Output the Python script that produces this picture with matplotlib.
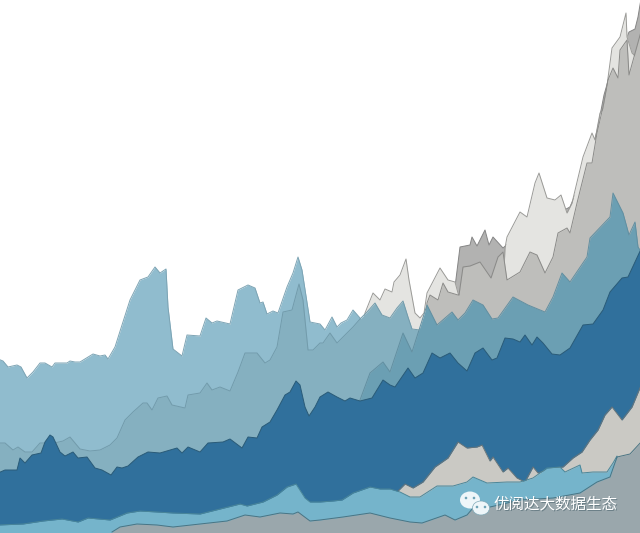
import matplotlib
matplotlib.use("Agg")
import matplotlib.pyplot as plt
from matplotlib.patches import Ellipse

plt.rcParams['font.family'] = ['Noto Sans CJK SC', 'DejaVu Sans']

pale_blue_x = [-2,3,8,17,21,27,33,40,45,52,55,67,70,75,80,93,100,105,108,115,122,130,140,148,155,160,166,168,173,182,187,200,206,212,217,230,238,248,255,260,263,267,273,278,287,293,298,302,310,315,320,325,332,337,341,347,353,360,362]
pale_blue_v = [174,172,166,168,166,155,161,170,170,166,170,170,172,171,171,179,177,178,174,186,208,233,253,256,266,260,264,226,184,177,198,197,215,210,212,209,243,248,245,230,231,219,222,220,246,260,276,263,211,210,209,203,216,206,210,213,223,215,200]

dark_gray_x = [452,455,460,470,472,477,485,489,493,503,520,570,587,597,604,612,620,627,629,635,638,642]
dark_gray_v = [236,246,286,288,296,287,303,288,296,285,300,326,366,402,438,466,490,496,501,504,516,540]

off_white_x = [363,365,373,380,385,392,394,400,406,409,415,420,424,427,440,448,455,458,462,503,505,507,520,527,535,539,547,555,561,567,572,583,592,595,600,604,612,620,626,627,632,642]
off_white_v = [200,220,240,233,244,241,251,258,274,253,220,215,220,240,265,253,251,240,230,240,285,296,321,316,350,360,335,333,338,320,330,376,400,393,420,425,485,496,520,496,480,470]

warm_gray_x = [425,427,430,438,443,448,458,459,463,470,480,491,498,503,507,520,530,537,545,553,558,567,570,577,587,592,597,603,608,613,618,620,627,629,642]
warm_gray_v = [200,230,238,233,250,241,238,238,266,267,271,255,276,281,253,261,281,278,260,276,300,305,300,330,370,370,400,426,453,465,455,483,493,458,505]

mid_blue_x = [-2,5,13,18,25,32,40,45,50,63,70,80,90,100,110,117,125,133,143,147,152,158,167,172,185,188,200,207,212,220,230,238,245,257,265,270,277,283,292,299,303,308,313,320,323,330,337,345,353,360,367,375,382,390,397,403,408,412,420,425,430]
mid_blue_v = [90,90,83,86,81,81,90,90,89,92,96,84,82,83,88,95,113,121,130,130,123,135,137,128,125,138,140,150,143,146,142,161,180,180,170,173,186,221,223,249,233,183,183,190,190,200,190,198,206,214,221,230,218,215,225,232,216,204,203,208,200]

teal_x = [358,360,370,383,390,403,412,427,437,452,458,465,473,483,492,498,513,528,545,553,562,570,587,590,610,613,623,629,635,638,642]
teal_v = [125,133,160,171,161,200,181,228,208,221,213,220,233,228,214,215,236,228,221,236,260,251,276,295,316,340,320,298,311,286,280]

deep_blue_x = [-2,5,17,20,25,32,41,45,50,53,60,65,73,78,87,95,102,111,117,122,128,138,148,160,177,182,188,200,208,223,230,242,248,257,262,270,277,285,290,296,300,305,309,315,320,328,337,345,350,360,372,383,390,395,408,415,423,432,440,450,458,467,475,483,492,497,505,513,520,525,532,537,543,552,560,570,583,593,603,610,622,628,642]
deep_blue_v = [60,63,63,75,70,78,80,91,98,96,81,77,81,75,76,65,63,58,66,65,67,76,81,80,85,80,86,81,90,91,94,85,96,95,106,111,123,138,141,152,148,126,117,126,136,141,136,132,135,132,135,153,148,146,165,155,160,180,175,180,170,162,180,185,173,175,195,194,191,198,188,196,190,179,178,185,208,209,223,241,255,256,286]

stone_x = [396,398,405,413,423,435,448,458,467,477,482,490,493,503,508,517,525,533,538,553,563,573,582,590,598,605,612,622,632,642]
stone_v = [30,42,49,45,51,66,75,91,85,86,88,72,76,61,65,55,51,66,60,65,66,75,81,93,103,118,126,113,126,150]

sky_x = [-2,23,43,62,78,88,110,127,140,157,173,200,220,240,247,263,277,287,296,305,310,320,333,342,353,370,380,390,400,410,420,437,453,467,473,487,507,520,533,547,560,565,580,582,593,607,613,617,618]
sky_v = [8,9,12,14,11,15,13,20,22,21,20,19,24,29,27,31,38,46,49,35,31,31,32,33,40,46,44,44,41,36,36,47,47,51,56,50,51,51,55,65,66,61,68,60,61,61,70,77,60]

slate_x = [112,120,137,157,173,200,227,245,260,280,293,298,310,320,343,370,390,410,422,445,455,467,473,490,520,553,580,597,610,617,630,642]
slate_v = [1,6,9,8,6,9,12,18,16,20,19,21,12,13,16,20,15,11,10,18,13,18,25,26,33,35,40,51,56,76,79,92]

watermark = "优阅达大数据生态"

layers = [
    (pale_blue_x, pale_blue_v, "#90BCCE", "#7DA4B4"),
    (dark_gray_x, dark_gray_v, "#B2B2B1", "#858585"),
    (off_white_x, off_white_v, "#E4E4E1", "#9A9A97"),
    (warm_gray_x, warm_gray_v, "#BEBEBB", "#8A8A88"),
    (mid_blue_x, mid_blue_v, "#85B0C0", "#729BAB"),
    (teal_x, teal_v, "#6B9FB3", "#628FA1"),
    (deep_blue_x, deep_blue_v, "#30709C", "#2A5B78"),
    (stone_x, stone_v, "#CAC9C4", "#66747A"),
    (sky_x, sky_v, "#75B4CB", "#4A8699"),
    (slate_x, slate_v, "#9AA7AC", "#4A7483"),
]

fig = plt.figure(figsize=(6.4, 5.33), dpi=100, facecolor="white")
ax = fig.add_axes([0, 0, 1, 1])
ax.set_xlim(0, 640)
ax.set_ylim(0, 533)
ax.axis("off")

for i, (xs, vs, fill, edge) in enumerate(layers):
    ax.fill_between(xs, vs, -5, color=fill, linewidth=0, zorder=i * 2 + 1)
    ax.plot(xs, vs, color=edge, linewidth=0.7, zorder=i * 2 + 2)

# WeChat-style watermark icon
icon = "#EEF6F9"
ax.add_patch(Ellipse((470, 33), 20, 17, color=icon, zorder=40, linewidth=0))
ax.add_patch(Ellipse((481, 25), 17, 14, color=icon, ec="#7FA9B8", linewidth=0.5, zorder=41))
for ex, ey in [(466, 35), (474, 35), (477, 26), (485, 26)]:
    ax.add_patch(Ellipse((ex, ey), 2.6, 2.6, color="#6FA3B6", zorder=42, linewidth=0))

ax.text(494, 28, watermark, color="#4E6770", alpha=0.6, fontsize=11.2, va="center", ha="left", zorder=43)
ax.text(493, 29, watermark, color="white", fontsize=11.2, va="center", ha="left", zorder=44)

fig.savefig("out.png", dpi=100, facecolor="white")
